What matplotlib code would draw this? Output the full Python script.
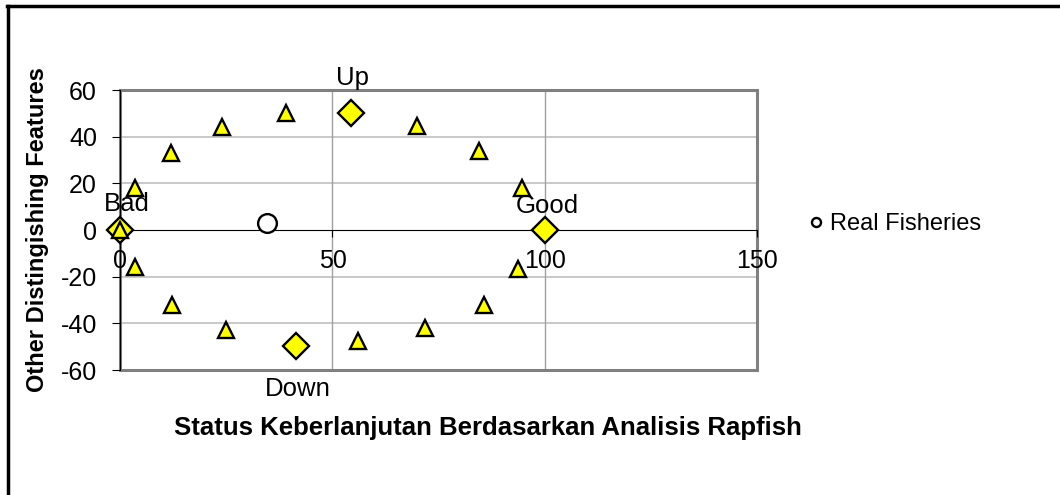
import matplotlib.pyplot as plt
from matplotlib.lines import Line2D
from matplotlib.patches import Rectangle

plt.rcParams['font.family'] = ['Liberation Sans', 'DejaVu Sans']
plt.rcParams['axes.unicode_minus'] = False

# reference points (triangles) around the ordination circle
ref_x = [0, 3.5, 12, 24, 39, 70, 84.5, 94.6, 93.6, 85.6, 71.8, 56, 25, 12.2, 3.5]
ref_y = [0, 18, 33, 44, 50, 44.6, 34, 18, -16.7, -32, -42, -47.6, -43, -32, -16]

# anchor points (diamonds)
anchor_names = ['Bad', 'Good', 'Up', 'Down']
anchor_x = [0, 100, 54.4, 41.4]
anchor_y = [0, 0, 50, -49.7]

# real fisheries
real_x = [34.6]
real_y = [3.0]

x_ticks = [0, 50, 100, 150]
y_ticks = [-60, -40, -20, 0, 20, 40, 60]

fig = plt.figure(figsize=(10.6, 4.95), dpi=100)
ax = fig.add_axes([120 / 1060, 1 - 370 / 495, 637.5 / 1060, 280 / 495])

ax.set_xlim(0, 150)
ax.set_ylim(-60, 60)

# grid
for y in y_ticks:
    if y not in (-60, 0, 60):
        ax.axhline(y, color='#c0c0c0', lw=1.2, zorder=0)
for x in (50, 100):
    ax.axvline(x, color='#a0a0a0', lw=1.0, zorder=0)

# plot-area border
ax.add_patch(Rectangle((0, 0), 1, 1, transform=ax.transAxes, fill=False,
                       edgecolor='#808080', lw=2.2, zorder=1, clip_on=False))

ax.spines['top'].set_visible(False)
ax.spines['right'].set_visible(False)
ax.spines['bottom'].set_position(('data', 0))
ax.spines['left'].set_zorder(2)
ax.spines['bottom'].set_zorder(2)

ax.set_xticks(x_ticks)
ax.set_yticks(y_ticks)
ax.tick_params(axis='x', direction='out', length=5, pad=9, labelsize=18)
ax.tick_params(axis='y', direction='out', length=6, pad=10.5, labelsize=18)

ax.plot(anchor_x, anchor_y, ls='none', marker='D', ms=13.5, mfc='#ffff00',
        mec='black', mew=1.7, zorder=3, clip_on=False)
ax.plot(ref_x, ref_y, ls='none', marker='^', ms=11, mfc='#ffff00',
        mec='black', mew=1.7, zorder=4, clip_on=False)
ax.plot(real_x, real_y, ls='none', marker='o', ms=13.5, mfc='white',
        mec='black', mew=1.7, zorder=5, clip_on=False)

offsets = {'Bad': (5, 18.5), 'Good': (2, 17.5), 'Up': (1, 25.5), 'Down': (1, -31)}
for name, x, y in zip(anchor_names, anchor_x, anchor_y):
    ax.annotate(name, (x, y), xytext=offsets[name], textcoords='offset points',
                ha='center', va='center', fontsize=18.5, zorder=6)

ax.set_xlabel('Status Keberlanjutan Berdasarkan Analisis Rapfish',
              fontsize=18.5, fontweight='bold')
ax.xaxis.set_label_coords(0.577, -0.164)
ax.set_ylabel('Other Distingishing Features', fontsize=17, fontweight='bold')
ax.yaxis.set_label_coords(-0.111, 0.5)

handle = Line2D([], [], ls='none', marker='o', ms=6.5, mfc='white',
                mec='black', mew=1.7)
fig.legend([handle], ['Real Fisheries'], loc='center left',
           bbox_to_anchor=(783 / 1060, 1 - 224 / 495), frameon=False,
           fontsize=17, handletextpad=0.1, handlelength=1.0)

# outer frame (top and left only visible)
fig.add_artist(Line2D([7 / 1060, 1], [1 - 6 / 495, 1 - 6 / 495], color='black',
                      lw=2.5, transform=fig.transFigure))
fig.add_artist(Line2D([8 / 1060, 8 / 1060], [0, 1 - 6 / 495], color='black',
                      lw=2.5, transform=fig.transFigure))

fig.savefig('out.png', dpi=100)
